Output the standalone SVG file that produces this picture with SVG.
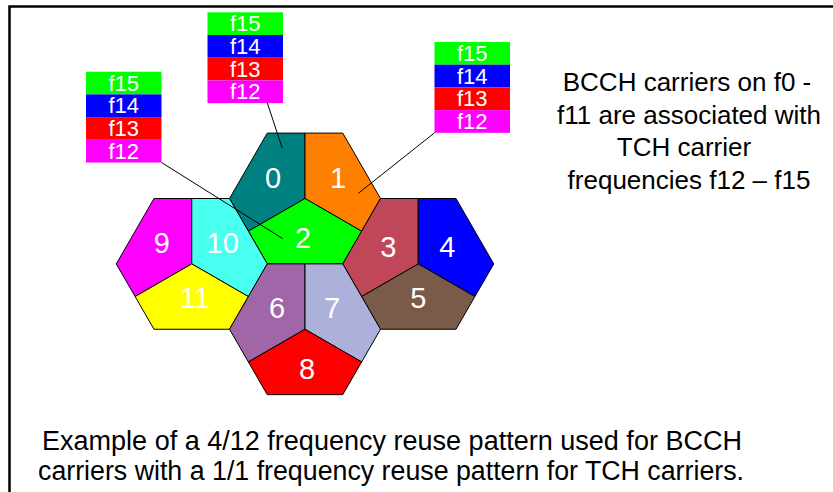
<svg xmlns="http://www.w3.org/2000/svg" width="833" height="492" viewBox="0 0 833 492">
<style>
.cell{stroke:#000;stroke-width:1;stroke-linejoin:round}
.lbl{font-family:"Liberation Sans",Arial,sans-serif;font-size:29px;fill:#fff;text-anchor:middle}
.ft{font-family:"Liberation Sans",Arial,sans-serif;font-size:22px;fill:#fff;text-anchor:middle}
.txt{font-family:"Liberation Sans",Arial,sans-serif;font-size:26px;fill:#000}
.lead{stroke:#000;stroke-width:1;fill:none}
</style>
<defs>
<polygon id="pl" points="0,0 0,-65.38 -37.75,-65.38 -75.5,0 -56.625,32.69"/>
<polygon id="pr" points="0,0 0,-65.38 37.75,-65.38 75.5,0 56.625,32.69"/>
<polygon id="pb" points="0,0 56.625,32.69 37.75,65.38 -37.75,65.38 -56.625,32.69"/>
</defs>
<rect width="833" height="492" fill="#fff"/>
<g id="frame" fill="none" stroke="#000" stroke-width="2.5">
<polyline points="9.5,492 9.5,6.5 833,6.5"/>
</g>

<g id="hex-top" transform="translate(305,198.5)">
<g id="cell-0"><use href="#pl" class="cell" fill="#008080"/><text class="lbl" x="-32" y="-11">0</text></g>
<g id="cell-1"><use href="#pr" class="cell" fill="#FF8000"/><text class="lbl" x="33" y="-11">1</text></g>
<g id="cell-2"><use href="#pb" class="cell" fill="#00FF00"/><text class="lbl" x="-2" y="49">2</text></g>
</g>
<g id="hex-left" transform="translate(191.75,263.88)">
<g id="cell-9"><use href="#pl" class="cell" fill="#FF00FF"/><text class="lbl" x="-30" y="-10.5">9</text></g>
<g id="cell-10"><use href="#pr" class="cell" fill="#48FFF0"/><text class="lbl" x="31" y="-10.5">10</text></g>
<g id="cell-11"><use href="#pb" class="cell" fill="#FFFF00"/><text class="lbl" x="3" y="44.5">11</text></g>
</g>
<g id="hex-right" transform="translate(418.25,263.88)">
<g id="cell-3"><use href="#pl" class="cell" fill="#C0475A"/><text class="lbl" x="-30" y="-6.5">3</text></g>
<g id="cell-4"><use href="#pr" class="cell" fill="#0000FF"/><text class="lbl" x="29" y="-6.5">4</text></g>
<g id="cell-5"><use href="#pb" class="cell" fill="#7A5A48"/><text class="lbl" x="0" y="44.5">5</text></g>
</g>
<g id="hex-bottom" transform="translate(305,329.26)">
<g id="cell-6"><use href="#pl" class="cell" fill="#A066A8"/><text class="lbl" x="-28" y="-11.5">6</text></g>
<g id="cell-7"><use href="#pr" class="cell" fill="#AEB0DC"/><text class="lbl" x="27" y="-11.5">7</text></g>
<g id="cell-8"><use href="#pb" class="cell" fill="#FF0000"/><text class="lbl" x="2" y="49.5">8</text></g>
</g>

<g id="box-top" transform="translate(207.5,12.3)">
<rect y="0" width="75.5" height="22.7" fill="#00FF00"/>
<rect y="22.7" width="75.5" height="22.7" fill="#0000FF"/>
<rect y="45.4" width="75.5" height="22.7" fill="#FF0000"/>
<rect y="68.1" width="75.5" height="22.7" fill="#FF00FF"/>
<text class="ft" x="37.75" y="19">f15</text>
<text class="ft" x="37.75" y="41.7">f14</text>
<text class="ft" x="37.75" y="64.4">f13</text>
<text class="ft" x="37.75" y="87.1">f12</text>
</g>
<g id="box-left" transform="translate(86,71.7)">
<rect y="0" width="75.5" height="22.7" fill="#00FF00"/>
<rect y="22.7" width="75.5" height="22.7" fill="#0000FF"/>
<rect y="45.4" width="75.5" height="22.7" fill="#FF0000"/>
<rect y="68.1" width="75.5" height="22.7" fill="#FF00FF"/>
<text class="ft" x="37.75" y="19">f15</text>
<text class="ft" x="37.75" y="41.7">f14</text>
<text class="ft" x="37.75" y="64.4">f13</text>
<text class="ft" x="37.75" y="87.1">f12</text>
</g>
<g id="box-right" transform="translate(434.5,42)">
<rect y="0" width="75.5" height="22.7" fill="#00FF00"/>
<rect y="22.7" width="75.5" height="22.7" fill="#0000FF"/>
<rect y="45.4" width="75.5" height="22.7" fill="#FF0000"/>
<rect y="68.1" width="75.5" height="22.7" fill="#FF00FF"/>
<text class="ft" x="37.75" y="19">f15</text>
<text class="ft" x="37.75" y="41.7">f14</text>
<text class="ft" x="37.75" y="64.4">f13</text>
<text class="ft" x="37.75" y="87.1">f12</text>
</g>

<g id="connectors" class="lead">
<line x1="267.3" y1="102.9" x2="282.3" y2="148.3"/>
<line x1="161.5" y1="162.5" x2="282.7" y2="238.6"/>
<line x1="434.5" y1="132.8" x2="358.3" y2="193.3"/>
</g>

<g id="note" class="txt" text-anchor="middle">
<text x="687" y="91">BCCH carriers on f0 -</text>
<text x="689" y="123.5">f11 are associated with</text>
<text x="684" y="156">TCH carrier</text>
<text x="689" y="188.5">frequencies f12 – f15</text>
</g>
<g id="caption" class="txt" style="font-size:27px">
<text x="42" y="450" textLength="700" lengthAdjust="spacingAndGlyphs">Example of a 4/12 frequency reuse pattern used for BCCH</text>
<text x="38" y="480" textLength="706" lengthAdjust="spacingAndGlyphs">carriers with a 1/1 frequency reuse pattern for TCH carriers.</text>
</g>
</svg>
